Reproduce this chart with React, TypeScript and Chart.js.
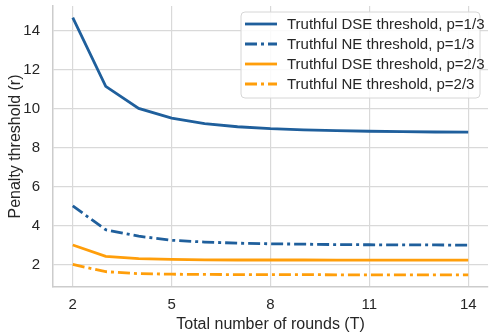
import React, { useEffect, useRef } from "react";
import { Chart, registerables } from "chart.js";

Chart.register(...registerables);

const rounds = [2, 3, 4, 5, 6, 7, 8, 9, 10, 11, 12, 13, 14];
const dseP1 = [14.65, 11.13, 10.0, 9.5, 9.22, 9.06, 8.96, 8.9, 8.86, 8.83, 8.81, 8.79, 8.78];
const neP1 = [5.0, 3.78, 3.45, 3.24, 3.15, 3.09, 3.06, 3.04, 3.02, 3.01, 3.0, 3.0, 2.99];
const dseP2 = [3.0, 2.42, 2.3, 2.26, 2.24, 2.23, 2.23, 2.23, 2.22, 2.22, 2.22, 2.22, 2.22];
const neP2 = [2.0, 1.63, 1.53, 1.5, 1.49, 1.48, 1.48, 1.48, 1.47, 1.47, 1.47, 1.47, 1.47];
const xTicks = [2, 5, 8, 11, 14];
const yTicks = [2, 4, 6, 8, 10, 12, 14];
const seriesLabels = [
  "Truthful DSE threshold, p=1/3",
  "Truthful NE threshold, p=1/3",
  "Truthful DSE threshold, p=2/3",
  "Truthful NE threshold, p=2/3",
];

const BLUE = "#1f5f9c";
const ORANGE = "#ff9e0a";
const DASHDOT = [12, 4, 3, 4];
const FONT = "'Liberation Sans', Arial, sans-serif";
const TEXT = "#262626";

const legendPlugin = {
  id: "innerLegend",
  afterDraw(chart: any) {
    const ctx = chart.ctx;
    const x0 = 241, y0 = 12, w = 239, h = 86, r = 4;
    ctx.save();
    ctx.beginPath();
    ctx.moveTo(x0 + r, y0);
    ctx.arcTo(x0 + w, y0, x0 + w, y0 + h, r);
    ctx.arcTo(x0 + w, y0 + h, x0, y0 + h, r);
    ctx.arcTo(x0, y0 + h, x0, y0, r);
    ctx.arcTo(x0, y0, x0 + w, y0, r);
    ctx.closePath();
    ctx.fillStyle = "rgba(255,255,255,0.85)";
    ctx.fill();
    ctx.strokeStyle = "#d6d6d6";
    ctx.lineWidth = 1;
    ctx.stroke();
    ctx.font = "15px " + FONT;
    ctx.textBaseline = "middle";
    ctx.textAlign = "left";
    chart.data.datasets.forEach((ds: any, i: number) => {
      const cy = 24 + i * 20;
      ctx.beginPath();
      ctx.setLineDash(ds.borderDash || []);
      ctx.strokeStyle = ds.borderColor;
      ctx.lineWidth = ds.borderWidth;
      ctx.moveTo(245, cy);
      ctx.lineTo(277, cy);
      ctx.stroke();
      ctx.setLineDash([]);
      ctx.fillStyle = TEXT;
      ctx.fillText(ds.label, 287, cy + 1);
    });
    ctx.restore();
  },
};

export default function App() {
  const ref = useRef<HTMLCanvasElement>(null);
  useEffect(() => {
    document.body.style.margin = "0";
    const mk = (label: string, data: number[], color: string, dash: number[]) => ({
      label,
      data: rounds.map((t, i) => ({ x: t, y: data[i] })),
      borderColor: color,
      backgroundColor: color,
      borderWidth: 2.8,
      borderDash: dash,
      pointRadius: 0,
      fill: false,
      tension: 0,
    });
    const chart = new Chart(ref.current!, {
      type: "line",
      data: {
        datasets: [
          mk(seriesLabels[0], dseP1, BLUE, []),
          mk(seriesLabels[1], neP1, BLUE, DASHDOT),
          mk(seriesLabels[2], dseP2, ORANGE, []),
          mk(seriesLabels[3], neP2, ORANGE, DASHDOT),
        ],
      },
      options: {
        animation: false,
        responsive: false,
        layout: { padding: { top: 6, right: 10, left: 0, bottom: 0 } },
        plugins: { legend: { display: false }, tooltip: { enabled: false } },
        scales: {
          x: {
            type: "linear",
            min: 1.4,
            max: 14.6,
            afterBuildTicks: (s: any) => {
              s.ticks = xTicks.map((v) => ({ value: v }));
            },
            afterFit: (s: any) => {
              s.height = 47;
              s.paddingLeft = 0;
              s.paddingRight = 0;
            },
            grid: { color: "#d9d9d9", lineWidth: 1.2, drawTicks: false },
            border: { color: "#cccccc", width: 1.5 },
            ticks: { padding: 9, color: TEXT, font: { size: 15, family: FONT }, maxRotation: 0 },
            title: {
              display: true,
              text: "Total number of rounds (T)",
              color: TEXT,
              font: { size: 16, family: FONT },
              padding: 0,
            },
          },
          y: {
            type: "linear",
            min: 0.845,
            max: 15.25,
            afterBuildTicks: (s: any) => {
              s.ticks = yTicks.map((v) => ({ value: v }));
            },
            afterFit: (s: any) => {
              s.width = 53;
              s.paddingTop = 0;
              s.paddingBottom = 0;
            },
            grid: { color: "#d9d9d9", lineWidth: 1.2, drawTicks: false },
            border: { color: "#cccccc", width: 1.5 },
            ticks: { padding: 13, color: TEXT, font: { size: 15, family: FONT } },
            title: {
              display: true,
              text: "Penalty threshold (r)",
              color: TEXT,
              font: { size: 16, family: FONT },
              padding: { top: 6, bottom: 0 },
            },
          },
        },
      },
      plugins: [legendPlugin],
    } as any);
    return () => chart.destroy();
  }, []);
  return (
    <div style={{ width: 498, height: 334 }}>
      <canvas ref={ref} width={498} height={334} style={{ display: "block" }} />
    </div>
  );
}
